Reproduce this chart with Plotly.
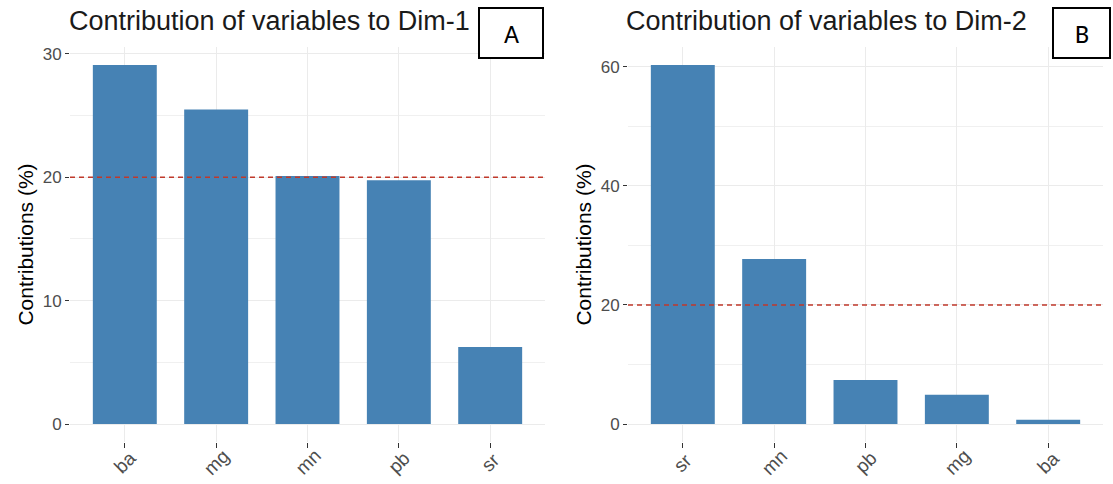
import plotly.graph_objects as go

W, H = 1113, 484

# Data
dim1_vars = ["ba", "mg", "mn", "pb", "sr"]
dim1_contrib = [29.1, 25.5, 20.1, 19.75, 6.25]
dim2_vars = ["sr", "mn", "pb", "mg", "ba"]
dim2_contrib = [60.3, 27.7, 7.4, 4.9, 0.7]
ref_line = 20
titles = ["Contribution of variables to Dim-1", "Contribution of variables to Dim-2"]
panel_labels = ["A", "B"]
y_title = "Contributions (%)"

BAR = "#4682B4"
GRID = "#ebebeb"
TICKTXT = "#4d4d4d"
FONT = "Liberation Sans, Arial, sans-serif"

def px_x(p):
    return p / W

def px_y(p):
    return 1 - p / H

fig = go.Figure()

panels = [
    dict(vars=dim1_vars, vals=dim1_contrib, xd=[70, 545], yr=[-1.455, 30.56], dt=10,
         xa="x", ya="y", box=[479, 543], tx=67),
    dict(vars=dim2_vars, vals=dim2_contrib, xd=[628, 1103], yr=[-3.02, 63.33], dt=20,
         xa="x2", ya="y2", box=[1053, 1110], tx=624),
]

ydom = [px_y(442), px_y(47)]

for i, p in enumerate(panels):
    fig.add_trace(go.Bar(x=p["vars"], y=p["vals"], marker=dict(color=BAR, line=dict(width=0)),
                         width=0.7, xaxis=p["xa"], yaxis=p["ya"], showlegend=False,
                         hoverinfo="x+y"))
    sfx = "" if i == 0 else "2"
    fig.layout["xaxis" + sfx] = dict(
        domain=[px_x(p["xd"][0]), px_x(p["xd"][1])], anchor="y" + sfx,
        range=[-0.6, len(p["vars"]) - 0.4], type="category", automargin=False,
        showgrid=True, gridcolor=GRID, gridwidth=1, zeroline=False, showline=False,
        ticks="outside", ticklen=5, tickcolor="#333333", tickwidth=1,
        showticklabels=False, fixedrange=True,
    )
    fig.layout["yaxis" + sfx] = dict(
        domain=ydom, anchor="x" + sfx, range=p["yr"], dtick=p["dt"], tick0=0, automargin=False,
        showgrid=True, gridcolor=GRID, gridwidth=1, zeroline=False, showline=False,
        ticks="outside", ticklen=4, tickcolor="#333333", tickwidth=1,
        tickfont=dict(family=FONT, size=17, color=TICKTXT),
        minor=dict(dtick=p["dt"] / 2, tick0=0, showgrid=True, gridcolor="#f0f0f0", gridwidth=0.7, ticks=""),
        title=dict(text=y_title, font=dict(family=FONT, size=21, color="#000000"), standoff=3),
        fixedrange=True,
    )
    # reference dashed line
    fig.add_shape(type="line", xref=p["xa"] + " domain", yref=p["ya"], x0=0, x1=1,
                  y0=ref_line, y1=ref_line, line=dict(color="#c0392b", width=1.4, dash="5px,4px"))
    # rotated category labels
    for v in p["vars"]:
        fig.add_annotation(x=v, xref=p["xa"], y=px_y(462), yref="paper", text=v,
                           textangle=-45, showarrow=False, xanchor="center", yanchor="middle",
                           font=dict(family=FONT, size=19, color=TICKTXT))
    # title
    fig.add_annotation(x=px_x(p["tx"]), y=px_y(21), xref="paper", yref="paper",
                       text=titles[i], showarrow=False, xanchor="left", yanchor="middle",
                       font=dict(family=FONT, size=27, color="#1a1a1a"))
    # panel label box
    bx0, bx1 = p["box"]
    fig.add_shape(type="rect", xref="paper", yref="paper", x0=px_x(bx0), x1=px_x(bx1),
                  y0=px_y(58), y1=px_y(8), line=dict(color="#000000", width=2),
                  fillcolor="#ffffff")
    fig.add_annotation(x=px_x((bx0 + bx1) / 2), y=px_y(34), xref="paper", yref="paper",
                       text=panel_labels[i], showarrow=False, xanchor="center", yanchor="middle",
                       font=dict(family="Calibri, Carlito, Liberation Sans, Arial, sans-serif", size=26, color="#000000"))

fig.update_layout(width=W, height=H, margin=dict(l=0, r=0, t=0, b=0),
                  paper_bgcolor="#ffffff", plot_bgcolor="#ffffff", bargap=0.3)

fig.write_html("out.html", config={"displayModeBar": False},
               post_script="document.body.style.margin='0';document.body.style.overflow='hidden';")
